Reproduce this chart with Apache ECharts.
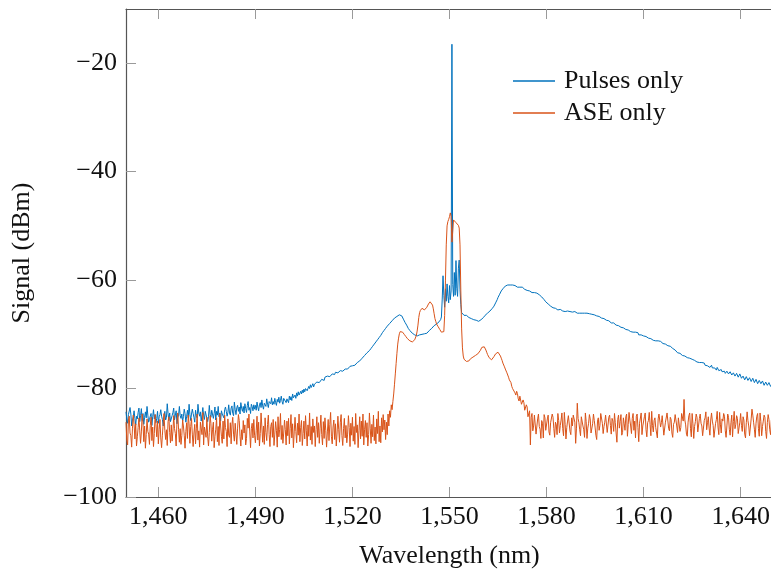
<!DOCTYPE html>
<html>
<head>
<meta charset="utf-8">
<script src="https://cdn.jsdelivr.net/npm/echarts@6/dist/echarts.min.js"></script>
<style>
html,body{margin:0;padding:0;background:#fff;}
#chart{width:771px;height:571px;}
</style>
</head>
<body>
<div id="chart"></div>
<script>
// Sampling grid of the spectra (nm)
const wavelengthStart = 1450;
const wavelengthStep = 0.25;

// Tick labels
const xTicks = [1460, 1490, 1520, 1550, 1580, 1610, 1640];
const yTicks = [-100, -80, -60, -40, -20];

// Series names
const seriesNames = ['Pulses only', 'ASE only'];

// Pulses only (dBm), one value every 0.25 nm from 1450 to 1650 (40 values per 10 nm row)
const pulsesOnly = [
-84.3,-85.6,-86.4,-84.8,-85.0,-83.5,-84.7,-86.9,-85.8,-85.2,-84.1,-85.5,-86.7,-85.1,-85.6,-84.4,-83.6,-86.1,-85.0,-83.7,
-85.9,-84.6,-86.6,-85.3,-84.3,-85.4,-83.3,-84.9,-86.2,-85.7,-85.1,-84.6,-86.8,-85.2,-83.9,-85.6,-84.8,-86.3,-85.5,-84.2,
-86.4,-85.2,-84.8,-83.9,-85.1,-85.7,-86.9,-85.3,-84.2,-85.8,-85.3,-82.8,-84.6,-85.9,-84.5,-86.1,-86.3,-85.0,-84.4,-83.6,
-85.8,-84.9,-84.1,-86.5,-85.4,-84.9,-83.3,-85.0,-85.5,-84.7,-86.0,-85.2,-83.8,-84.6,-86.2,-85.1,-84.0,-85.4,-82.9,-84.8,
-85.9,-84.7,-83.8,-84.6,-85.3,-86.2,-84.0,-85.0,-85.4,-82.9,-84.5,-85.1,-84.3,-86.0,-84.8,-83.5,-84.9,-85.7,-84.2,-83.9,
-84.4,-86.1,-85.2,-83.1,-84.8,-85.3,-84.0,-83.7,-85.5,-84.6,-83.4,-85.8,-84.2,-84.9,-83.3,-85.2,-84.5,-86.0,-84.1,-84.7,
-84.6,-85.4,-83.9,-83.4,-84.2,-85.1,-84.4,-83.0,-84.5,-84.9,-83.6,-83.2,-84.6,-85.0,-82.5,-83.9,-84.8,-83.5,-83.1,-84.2,
-83.4,-84.7,-82.6,-83.6,-84.2,-83.3,-84.5,-82.8,-83.7,-84.4,-83.1,-82.4,-84.0,-83.5,-84.6,-82.9,-83.3,-84.1,-83.0,-83.8,
-83.1,-84.0,-82.5,-83.4,-84.1,-83.0,-82.6,-83.5,-82.1,-83.2,-83.8,-82.7,-82.5,-83.3,-81.9,-82.9,-83.5,-82.4,-82.2,-82.8,
-81.7,-83.0,-82.4,-82.9,-81.8,-82.6,-83.1,-82.0,-82.5,-81.6,-82.7,-82.2,-81.4,-82.4,-82.9,-81.8,-82.1,-81.5,-82.6,-81.9,
-81.8,-82.6,-81.4,-82.1,-81.5,-82.2,-81.0,-81.7,-81.9,-81.2,-81.8,-80.8,-81.4,-80.6,-81.2,-80.9,-80.5,-81.0,-80.3,-80.8,
-80.1,-80.6,-80.0,-79.8,-80.4,-80.2,-79.6,-80.0,-79.3,-79.8,-79.5,-79.1,-79.7,-79.2,-78.9,-79.4,-78.8,-79.1,-78.6,-78.9,
-78.6,-78.9,-78.3,-78.5,-78.2,-78.5,-77.9,-78.2,-78.0,-77.7,-78.0,-77.6,-77.8,-77.5,-77.7,-77.3,-77.5,-77.2,-77.4,-77.0,
-77.2,-76.9,-77.1,-76.8,-77.0,-76.7,-76.9,-76.6,-76.8,-76.5,-76.7,-76.4,-76.5,-76.2,-76.4,-76.1,-76.2,-75.9,-76.1,-75.9,
-75.8,-75.9,-75.6,-75.7,-75.4,-75.5,-75.2,-75.2,-75.0,-74.9,-74.7,-74.6,-74.4,-74.3,-74.1,-73.9,-73.8,-73.6,-73.4,-73.3,
-73.2,-73.0,-72.8,-72.6,-72.4,-72.2,-72.0,-71.8,-71.6,-71.4,-71.2,-71.0,-70.8,-70.6,-70.4,-70.2,-69.9,-69.7,-69.5,-69.3,
-69.1,-68.9,-68.7,-68.5,-68.3,-68.2,-68.0,-67.9,-67.7,-67.5,-67.4,-67.2,-67.0,-66.9,-66.8,-66.7,-66.6,-66.5,-66.4,-66.4,
-66.5,-66.6,-66.9,-67.2,-67.5,-67.8,-68.0,-68.3,-68.6,-68.9,-69.1,-69.3,-69.5,-69.6,-69.8,-69.9,-70.0,-70.1,-70.1,-70.2,
-70.3,-70.2,-70.3,-70.1,-70.1,-70.2,-70.0,-70.2,-70.0,-69.9,-69.8,-69.9,-69.8,-69.6,-69.5,-69.3,-69.2,-69.0,-68.9,-68.7,
-68.6,-68.4,-68.3,-68.2,-68.1,-67.9,-67.8,-67.7,-67.6,-67.3,-66.8,-63.5,-59.2,-62.8,-65.0,-61.6,-63.9,-60.7,-63.0,-64.2,
-61.0,-63.6,-62.0,-16.5,-60.8,-63.0,-58.6,-62.8,-56.4,-61.5,-63.0,-57.8,-56.3,-61.8,-64.5,-66.0,-66.2,-66.3,-66.5,-66.4,
-66.6,-66.5,-66.7,-66.6,-66.9,-66.8,-67.0,-67.1,-67.2,-67.1,-67.3,-67.4,-67.6,-67.4,-67.5,-67.6,-67.6,-67.5,-67.4,-67.3,
-67.1,-67.0,-66.9,-66.7,-66.5,-66.4,-66.3,-66.1,-66.0,-65.9,-65.7,-65.6,-65.4,-65.2,-65.0,-64.8,-64.5,-64.2,-63.9,-63.6,
-63.2,-62.9,-62.6,-62.3,-62.0,-61.8,-61.6,-61.4,-61.3,-61.1,-61.0,-60.9,-60.9,-61.0,-60.8,-60.9,-60.8,-61.0,-60.9,-61.0,
-61.1,-61.0,-61.1,-61.2,-61.3,-61.1,-61.2,-61.3,-61.4,-61.3,-61.3,-61.5,-61.6,-61.7,-61.8,-61.7,-61.9,-62.0,-62.1,-62.0,
-62.0,-62.2,-62.3,-62.1,-62.2,-62.3,-62.1,-62.2,-62.4,-62.5,-62.6,-62.7,-62.8,-63.0,-63.1,-63.3,-63.4,-63.6,-63.8,-64.0,
-64.1,-64.3,-64.4,-64.6,-64.7,-64.8,-64.9,-65.0,-65.1,-65.2,-65.3,-65.2,-65.2,-65.4,-65.5,-65.5,-65.6,-65.4,-65.5,-65.6,
-65.7,-65.6,-65.6,-65.8,-65.8,-65.7,-65.7,-65.9,-65.9,-65.8,-65.8,-66.0,-65.9,-66.0,-66.0,-65.8,-65.8,-66.1,-66.1,-66.0,
-66.0,-66.1,-66.2,-66.0,-66.1,-66.2,-66.0,-66.1,-66.3,-66.2,-66.1,-66.3,-66.4,-66.2,-66.2,-66.4,-66.3,-66.4,-66.5,-66.4,
-66.4,-66.5,-66.6,-66.7,-66.8,-66.7,-66.7,-66.9,-67.0,-66.9,-67.2,-67.1,-67.1,-67.3,-67.4,-67.3,-67.6,-67.5,-67.7,-67.8,
-67.9,-68.0,-68.1,-67.9,-68.0,-68.2,-68.3,-68.2,-68.5,-68.4,-68.4,-68.6,-68.7,-68.5,-68.6,-68.8,-68.9,-68.8,-69.1,-69.0,
-69.0,-69.2,-69.3,-69.1,-69.5,-69.4,-69.4,-69.6,-69.7,-69.5,-69.6,-69.8,-69.9,-69.7,-70.1,-70.0,-69.9,-70.1,-70.2,-70.1,
-70.3,-70.2,-70.5,-70.4,-70.4,-70.6,-70.7,-70.5,-70.6,-70.8,-70.9,-70.7,-71.1,-71.0,-70.9,-71.2,-71.3,-71.1,-71.2,-71.4,
-71.5,-71.3,-71.4,-71.6,-71.7,-71.6,-71.9,-71.8,-71.8,-72.0,-72.1,-72.0,-72.3,-72.2,-72.2,-72.5,-72.6,-72.4,-72.8,-72.9,
-73.1,-72.9,-73.4,-73.2,-73.2,-73.5,-73.7,-73.4,-73.9,-73.8,-73.6,-74.0,-74.1,-73.9,-74.3,-74.2,-74.0,-74.4,-74.5,-74.3,
-74.6,-74.5,-74.4,-74.8,-74.9,-74.7,-75.1,-75.0,-74.8,-75.2,-75.3,-75.0,-75.2,-75.4,-75.5,-75.3,-75.7,-75.6,-75.4,-75.8,
-75.9,-75.6,-76.1,-75.8,-75.7,-76.2,-76.4,-75.9,-76.2,-76.5,-76.6,-76.1,-76.3,-76.7,-76.9,-76.4,-76.5,-76.9,-77.1,-76.6,
-76.8,-77.2,-77.3,-76.8,-76.9,-77.3,-77.4,-76.9,-77.0,-77.5,-77.6,-77.1,-77.2,-77.7,-77.5,-77.2,-77.4,-77.9,-77.8,-77.3,
-77.6,-78.1,-78.3,-77.7,-77.8,-78.4,-78.5,-77.8,-77.9,-78.5,-78.6,-78.0,-78.1,-78.7,-78.8,-78.1,-78.3,-78.9,-78.9,-78.3,
-78.4,-79.1,-79.2,-78.5,-78.6,-79.1,-79.1,-78.6,-78.8,-79.4,-79.5,-78.8,-78.9,-79.4,-79.4,-78.9,-79.0,-79.6,-79.6,-79.1,
-79.3
];

// ASE only (dBm), one value every 0.25 nm from 1450 to 1650 (40 values per 10 nm row)
const aseOnly = [
-86.2,-89.5,-90.4,-85.8,-85.1,-88.2,-88.7,-90.8,-87.3,-84.9,-86.6,-89.3,-86.5,-90.6,-88.9,-87.2,-85.4,-87.8,-90.1,-88.0,
-84.7,-86.3,-89.8,-86.9,-91.0,-88.5,-85.6,-87.9,-88.4,-90.3,-86.8,-85.3,-89.6,-87.1,-90.7,-88.3,-84.8,-86.7,-88.9,-86.0,
-90.2,-87.5,-85.7,-89.1,-90.9,-88.6,-86.4,-84.6,-87.7,-89.4,-87.6,-90.5,-86.1,-85.2,-88.1,-90.0,-86.7,-89.7,-88.0,-85.0,
-87.4,-88.3,-90.6,-86.1,-84.5,-87.6,-89.9,-87.4,-90.3,-88.7,-85.8,-86.9,-88.6,-91.0,-87.9,-86.3,-89.2,-84.9,-86.5,-90.1,
-87.0,-85.5,-88.4,-90.7,-88.2,-86.6,-90.2,-87.3,-84.7,-89.5,-87.8,-90.8,-86.2,-85.9,-88.5,-84.4,-90.4,-87.1,-86.8,-89.0,
-85.3,-88.9,-90.6,-88.1,-85.0,-86.4,-89.7,-87.5,-86.2,-90.9,-88.8,-87.5,-85.4,-89.8,-87.0,-90.5,-84.6,-86.9,-88.8,-90.1,
-86.0,-89.3,-84.9,-87.2,-87.9,-90.7,-85.6,-88.6,-89.0,-86.3,-90.2,-86.7,-85.3,-88.4,-89.7,-86.4,-86.5,-90.3,-87.3,-84.8,
-85.9,-88.8,-90.6,-87.6,-89.4,-85.9,-88.2,-86.7,-90.4,-89.2,-85.5,-87.3,-84.7,-88.0,-90.9,-87.4,-86.4,-89.1,-85.7,-88.6,
-90.0,-87.8,-85.1,-89.5,-86.2,-90.6,-88.3,-84.5,-87.1,-89.9,-86.9,-90.3,-85.4,-88.1,-89.6,-86.6,-84.9,-88.5,-90.7,-87.0,
-86.3,-89.0,-85.7,-90.5,-88.4,-86.1,-87.7,-90.8,-85.2,-88.9,-87.5,-84.6,-89.4,-86.8,-90.1,-88.2,-85.8,-87.6,-90.4,-86.0,
-88.7,-85.5,-90.2,-87.4,-84.8,-89.1,-86.5,-90.9,-88.0,-85.3,-87.9,-90.0,-86.4,-88.6,-84.7,-89.8,-87.2,-85.9,-90.5,-88.3,
-86.0,-89.3,-85.0,-87.8,-90.6,-86.7,-88.8,-84.5,-89.5,-87.0,-90.3,-85.6,-88.1,-86.9,-90.7,-87.6,-85.2,-89.0,-86.3,-90.1,
-87.3,-84.9,-88.5,-90.4,-86.1,-89.2,-85.4,-87.7,-90.8,-88.0,-85.7,-89.6,-86.6,-84.4,-88.9,-90.2,-87.1,-85.8,-89.4,-86.5,
-90.6,-88.2,-85.1,-87.5,-89.9,-86.2,-84.8,-88.7,-90.5,-87.4,-85.5,-89.1,-86.8,-90.0,-88.4,-85.0,-87.2,-90.7,-86.4,-88.6,
-85.3,-89.7,-87.0,-90.3,-84.6,-88.1,-86.7,-90.9,-87.8,-85.2,-89.3,-86.0,-88.8,-84.7,-90.4,-87.5,-85.9,-89.0,-86.3,-90.6,
-88.5,-84.5,-87.3,-90.1,-86.6,-88.9,-84.9,-89.6,-87.1,-90.2,-85.6,-88.3,-84.2,-89.8,-86.9,-90.0,-85.4,-88.0,-84.8,-87.6,
-85.8,-89.4,-86.2,-88.5,-84.7,-86.9,-84.1,-85.3,-83.0,-83.9,-82.4,-81.0,-79.2,-77.3,-75.4,-73.5,-71.8,-70.7,-69.9,-69.5,
-69.3,-69.4,-69.6,-69.8,-70.0,-70.2,-70.4,-70.6,-70.8,-70.9,-71.1,-71.2,-71.3,-71.4,-71.4,-71.4,-71.2,-71.0,-70.7,-70.2,
-69.4,-68.3,-66.9,-66.0,-65.6,-65.4,-65.2,-65.3,-65.4,-65.5,-65.5,-65.3,-65.0,-64.7,-64.4,-64.2,-64.0,-64.0,-64.2,-64.6,
-65.3,-66.2,-67.1,-67.6,-68.1,-68.4,-68.6,-68.9,-69.1,-69.4,-69.6,-69.8,-69.9,-69.5,-66.5,-60.0,-53.5,-50.0,-49.2,-48.8,
-48.3,-47.6,-48.2,-53.0,-51.0,-48.9,-49.2,-49.0,-49.4,-49.6,-49.7,-49.9,-50.4,-53.5,-62.0,-69.0,-72.5,-74.0,-74.6,-74.9,
-74.8,-75.0,-75.1,-75.0,-74.9,-74.7,-74.5,-74.4,-74.3,-74.2,-74.1,-74.0,-73.9,-73.8,-73.7,-73.6,-73.5,-73.3,-73.0,-72.7,
-72.4,-72.3,-72.2,-72.3,-72.5,-72.9,-73.3,-73.7,-74.0,-74.3,-74.5,-74.6,-74.7,-74.6,-74.4,-74.1,-73.8,-73.6,-73.4,-73.3,
-73.3,-73.4,-73.6,-74.0,-74.4,-74.8,-75.3,-75.6,-76.0,-76.4,-76.7,-77.1,-77.4,-77.9,-78.4,-78.6,-78.9,-79.6,-80.0,-79.7,
-79.9,-80.8,-81.2,-80.5,-80.9,-81.9,-82.3,-81.4,-81.7,-82.9,-83.2,-82.1,-82.6,-84.0,-84.1,-83.0,-83.4,-85.2,-85.0,-84.1,
-90.4,-85.3,-84.6,-87.8,-86.9,-84.9,-85.2,-88.4,-88.3,-85.6,-84.7,-87.0,-87.5,-89.2,-85.9,-86.4,-89.1,-84.8,-85.4,-87.7,
-87.8,-85.6,-84.9,-88.0,-88.6,-86.3,-86.1,-84.7,-85.3,-87.4,-89.0,-86.2,-86.7,-88.5,-84.6,-85.9,-88.2,-86.8,-85.8,-84.5,
-87.4,-88.7,-84.4,-86.6,-89.3,-87.2,-86.0,-85.0,-85.1,-87.9,-88.5,-85.4,-86.9,-84.9,-84.8,-86.2,-90.1,-87.3,-82.7,-85.5,
-86.3,-87.6,-88.7,-85.2,-85.0,-86.9,-87.6,-89.0,-84.5,-86.1,-89.2,-87.3,-86.4,-84.8,-85.6,-88.2,-88.0,-86.5,-84.7,-85.9,
-87.1,-88.6,-89.4,-86.0,-85.4,-87.7,-86.8,-84.6,-84.3,-86.4,-88.3,-87.0,-86.2,-84.9,-85.0,-88.1,-87.9,-85.3,-84.9,-86.8,
-88.4,-85.5,-86.0,-87.9,-84.6,-86.3,-88.2,-89.9,-85.7,-84.9,-87.3,-86.1,-84.8,-88.6,-88.1,-85.4,-86.5,-87.7,-85.2,-84.7,
-88.8,-86.6,-84.4,-85.8,-86.9,-88.3,-85.5,-84.6,-87.7,-86.0,-89.1,-85.1,-84.7,-87.2,-89.8,-86.4,-86.4,-84.5,-88.5,-86.9,
-87.0,-85.2,-84.5,-87.6,-88.9,-86.3,-85.9,-84.4,-86.6,-88.7,-84.2,-86.8,-88.0,-85.9,-85.4,-87.2,-87.5,-89.1,-85.6,-84.7,
-84.9,-87.1,-86.3,-85.0,-85.1,-88.6,-88.4,-86.2,-86.0,-84.5,-84.6,-87.4,-87.8,-85.3,-85.7,-88.2,-89.0,-86.6,-86.2,-84.8,
-84.8,-86.9,-88.1,-85.4,-85.6,-87.9,-87.2,-84.6,-84.3,-86.0,-82.0,-85.8,-86.7,-88.4,-88.8,-86.2,-85.0,-84.5,-87.4,-88.9,
-84.6,-86.5,-89.2,-87.0,-86.1,-84.7,-85.3,-88.0,-88.3,-85.5,-84.7,-86.4,-86.9,-88.7,-89.0,-85.9,-85.4,-84.3,-87.6,-86.3,
-85.2,-87.3,-88.6,-85.8,-84.5,-86.0,-86.8,-89.0,-89.3,-86.4,-85.7,-84.2,-87.1,-88.5,-84.4,-86.7,-88.2,-85.6,-86.0,-84.6,
-85.1,-87.8,-89.0,-86.9,-84.7,-85.3,-87.5,-88.6,-86.3,-84.9,-88.9,-86.1,-84.2,-87.4,-86.6,-85.0,-85.5,-88.3,-88.4,-86.2,
-84.6,-86.8,-87.9,-85.2,-85.8,-88.4,-89.1,-86.3,-84.3,-85.9,-86.9,-88.7,-88.5,-85.6,-83.8,-84.9,-86.2,-87.5,-89.0,-86.4,
-85.1,-84.6,-87.4,-88.8,-84.5,-86.1,-88.7,-87.0,-86.0,-84.9,-85.3,-87.9,-89.2,-86.3,-84.8,-85.7,-87.6,-88.5,-85.9,-86.6,
-88.1
];

function toPairs(values) {
  return values.map((v, i) => [wavelengthStart + i * wavelengthStep, v]);
}

const FONT = '"Liberation Serif", "DejaVu Serif", serif';
const FRAME = '#555555';
const TICK = '#9a9a9a';

const chart = echarts.init(document.getElementById('chart'), null, {renderer: 'canvas'});
chart.setOption({
  animation: false,
  backgroundColor: '#ffffff',
  textStyle: {fontFamily: FONT},
  grid: {left: 126, top: 9, width: 647, height: 488, containLabel: false, outerBoundsMode: 'none'},
  legend: {
    left: 513, top: 68, orient: 'vertical', padding: 0,
    itemWidth: 42, itemHeight: 1.5, itemGap: 6, icon: 'rect',
    textStyle: {fontFamily: FONT, fontSize: 26, color: '#111', padding: [0, 0, 0, 4]},
    data: seriesNames
  },
  xAxis: [{
    type: 'value', min: 1450, max: 1650, position: 'bottom',
    name: 'Wavelength (nm)', nameLocation: 'middle', nameGap: 46,
    nameTextStyle: {fontFamily: FONT, fontSize: 26, color: '#111'},
    axisLine: {show: true, onZero: false, lineStyle: {color: FRAME, width: 1.2}},
    axisTick: {show: true, inside: true, length: 10, customValues: xTicks, lineStyle: {color: TICK, width: 1}},
    axisLabel: {customValues: xTicks, margin: 7, fontFamily: FONT, fontSize: 26, color: '#111',
      formatter: v => v.toLocaleString('en-US')},
    splitLine: {show: false}
  }, {
    type: 'value', min: 1450, max: 1650, position: 'top',
    axisLine: {show: true, onZero: false, lineStyle: {color: FRAME, width: 1.2}},
    axisTick: {show: true, inside: true, length: 10, customValues: xTicks, lineStyle: {color: TICK, width: 1}},
    axisLabel: {show: false},
    splitLine: {show: false}
  }],
  yAxis: [{
    type: 'value', min: -100, max: -10, interval: 20, position: 'left',
    name: 'Signal (dBm)', nameLocation: 'middle', nameGap: 91, nameRotate: 90,
    nameTextStyle: {fontFamily: FONT, fontSize: 26, color: '#111'},
    axisLine: {show: true, onZero: false, lineStyle: {color: FRAME, width: 1.2}},
    axisTick: {show: true, inside: true, length: 10, customValues: yTicks, lineStyle: {color: TICK, width: 1}},
    axisLabel: {customValues: yTicks, margin: 9, fontFamily: FONT, fontSize: 26, color: '#111',
      formatter: v => String(v).replace('-', '\u2212')},
    splitLine: {show: false}
  }],
  series: [{
    name: seriesNames[0], type: 'line', xAxisIndex: 0, yAxisIndex: 0,
    data: toPairs(pulsesOnly), showSymbol: false, symbol: 'none',
    lineStyle: {color: '#0072BD', width: 1}, itemStyle: {color: '#0072BD'}, z: 2
  }, {
    name: seriesNames[1], type: 'line', xAxisIndex: 0, yAxisIndex: 0,
    data: toPairs(aseOnly), showSymbol: false, symbol: 'none',
    lineStyle: {color: '#D95319', width: 1}, itemStyle: {color: '#D95319'}, z: 3
  }]
});
</script>
</body>
</html>
